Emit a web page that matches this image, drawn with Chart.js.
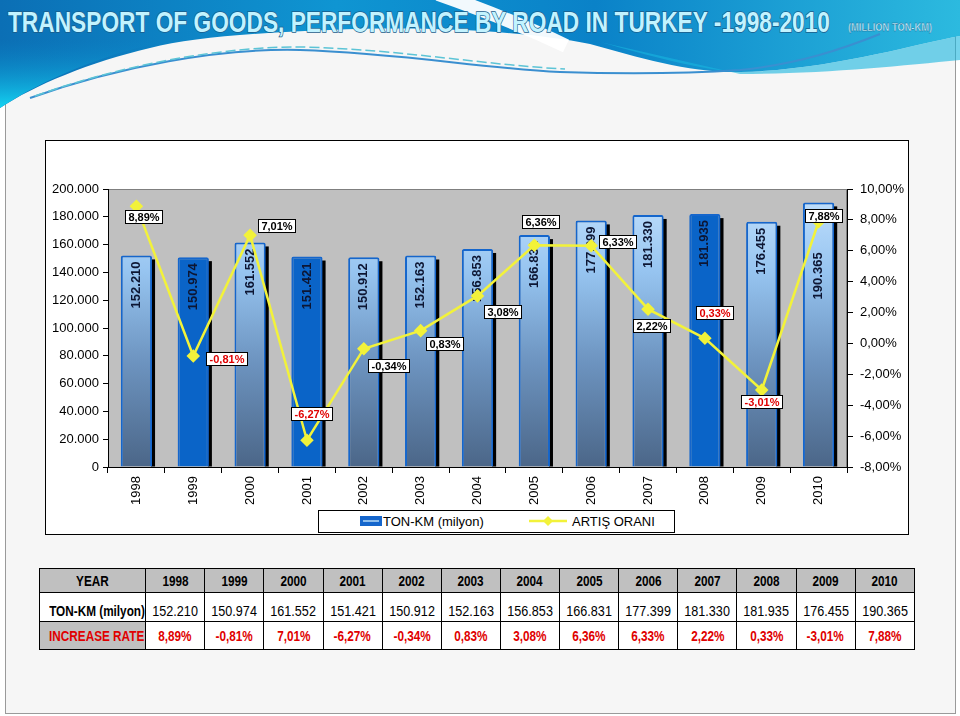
<!DOCTYPE html>
<html>
<head>
<meta charset="utf-8">
<script src="https://cdn.jsdelivr.net/npm/chart.js@4.4.1/dist/chart.umd.min.js"></script>
<style>
  body { margin: 0; width: 960px; height: 716px; position: relative; overflow: hidden; background: #fff; font-family: Arial, "Liberation Sans", sans-serif; }
  #page { position: absolute; left: 5px; top: 0; width: 951px; height: 714px; box-sizing: border-box; border: 1px solid #9a9a9a; border-top: none; background: #f6f6f6; }
  #banner { position: absolute; left: 0; top: 0; }
  #box { position: absolute; left: 45px; top: 140px; width: 864px; height: 395px; box-sizing: border-box; border: 1px solid #000; background: #fff; }
  #box canvas { position: absolute; left: -1px; top: -1px; }
  #legend { position: absolute; left: 318px; top: 510px; width: 357px; height: 23px; box-sizing: border-box; border: 1px solid #000; background: #fff; font-size: 13px; color: #000; }
  #legend canvas, #legend span { position: absolute; }
  #tbl { position: absolute; left: 39px; top: 568px; width: 876px; table-layout: fixed; border-collapse: collapse; font-family: Arial, "Liberation Sans", sans-serif; background: #fff; }
  #tbl td { border: 1px solid #000; text-align: center; padding: 0; overflow: visible; white-space: nowrap; }
  #tbl td span { display: inline-block; transform: scaleX(0.84); transform-origin: center; }
  #tbl tr.h td { background: #c0c0c0; font-weight: bold; font-size: 14px; height: 23px; }
  #tbl tr.v td { font-size: 15px; height: 26px; vertical-align: bottom; padding-bottom: 2px; }
  #tbl tr.r td { color: #e00000; font-weight: bold; font-size: 14px; height: 27px; }
  #tbl td.first { font-weight: bold; }
  #tbl tr.v td.first { font-size: 14px; }
  #tbl tr.r td.first { background: #c0c0c0; }
</style>
</head>
<body>
<div id="page"></div>
<svg id="banner" width="960" height="120" viewBox="0 0 960 120">
  <defs>
    <linearGradient id="bandH" x1="0" y1="0" x2="1" y2="0">
      <stop offset="0" stop-color="#0b6fb5"/>
      <stop offset="0.35" stop-color="#0f95d2"/>
      <stop offset="0.62" stop-color="#0a82c8"/>
      <stop offset="1" stop-color="#2cbadf"/>
    </linearGradient>
    <linearGradient id="lobe" x1="0" y1="0" x2="0" y2="1">
      <stop offset="0" stop-color="#0b8acb" stop-opacity="0"/>
      <stop offset="1" stop-color="#14d4f2"/>
    </linearGradient>
  </defs>
  <path d="M0,0 L960,0 L960,36 C915,44 830,70 740,72 C690,73 640,58 590,44 C520,30 420,26 330,30 C250,33 190,38 150,48 C90,62 35,85 0,108 Z" fill="url(#bandH)"/>
  <path d="M0,40 L170,40 C110,52 45,78 0,108 Z" fill="url(#lobe)"/>
  <path d="M600,42 C650,56 700,70 740,72 C830,70 915,44 960,36 L960,60 C900,66 820,74 740,74 Z" fill="#18b6e0" opacity="0.6"/>
  <path d="M438,-6 C478,8 520,24 566,46" stroke="#fff" stroke-width="14" fill="none" opacity="0.95"/>
  <path d="M30,98 C120,66 220,48 300,50 C400,53 480,68 560,72 C620,74 680,74 740,70 C800,64 845,48 880,34" stroke="#3a8fd0" stroke-width="2" fill="none"/>
  <path d="M35,96 C125,64 225,46 305,47 C405,50 485,65 565,69" stroke="#5cc4d6" stroke-width="1.5" stroke-dasharray="10 4" fill="none"/>
  <text x="8" y="32" textLength="822" lengthAdjust="spacingAndGlyphs" font-family="Liberation Sans, Arial, sans-serif" font-weight="bold" font-size="30" fill="#c2f3ff" stroke="#1b5d8c" stroke-width="1.5" paint-order="stroke">TRANSPORT OF GOODS, PERFORMANCE  BY ROAD IN TURKEY -1998-2010</text>
  <text x="848" y="31" textLength="84" lengthAdjust="spacingAndGlyphs" font-family="Liberation Sans, Arial, sans-serif" font-weight="bold" font-size="10" fill="#c2f3ff" stroke="#1b5d8c" stroke-width="0.3">(MILLION TON-KM)</text>
</svg>
<div id="box"><canvas id="myChart" width="864" height="395"></canvas></div>
<div id="legend">
  <canvas id="swBar" width="22" height="10" style="left:41px;top:5px"></canvas>
  <span style="left:64px;top:3px">TON-KM (milyon)</span>
  <canvas id="swLine" width="38" height="12" style="left:210px;top:4px"></canvas>
  <span style="left:253px;top:3px">ARTIŞ ORANI</span>
</div>
<table id="tbl"></table>

<script>
// data
const years = ['1998', '1999', '2000', '2001', '2002', '2003', '2004', '2005', '2006', '2007', '2008', '2009', '2010'];
const tonKm = [152210, 150974, 161552, 151421, 150912, 152163, 156853, 166831, 177399, 181330, 181935, 176455, 190365];
const rates = [8.89, -0.81, 7.01, -6.27, -0.34, 0.83, 3.08, 6.36, 6.33, 2.22, 0.33, -3.01, 7.88];

const seriesBar = 'TON-KM (milyon)';
const seriesLine = 'ARTIŞ ORANI';
const rowLabels = ['YEAR', 'TON-KM (milyon)', 'INCREASE RATE'];

// styling
const solidYears = ['1999', '2001', '2008'];
const redLabels = ['1999', '2001', '2008', '2009'];
// where each rate label box sits relative to its point (px)
const rateLabelOffsets = [[8, 11], [34, 3], [27, -9], [5, -26], [25, 17], [24, 13], [25, 16], [7, -23], [27, -4], [4, 17], [10, -25], [0, 12], [5, -6]];
const valueLabelShift = { '2010': 44 };

const yellow = '#f2f23a';

function dots(v) {
    return String(v).replace(/\B(?=(\d{3})+(?!\d))/g, '.');
}
function pct(v) {
    return v.toFixed(2).replace('.', ',') + '%';
}

let barGrad = null;
function barFill(c) {
    if (solidYears.includes(years[c.dataIndex])) return '#0a64c8';
    const a = c.chart.chartArea;
    if (!a) return '#7fb0e4';
    if (!barGrad) {
        barGrad = c.chart.ctx.createLinearGradient(0, a.top, 0, a.bottom);
        barGrad.addColorStop(0, '#c4e2fe');
        barGrad.addColorStop(0.3, '#96c4f0');
        barGrad.addColorStop(0.62, '#6d94c0');
        barGrad.addColorStop(1, '#4b6688');
    }
    return barGrad;
}

const plotBg = {
    id: 'plotBg',
    beforeDraw(chart) {
        const { ctx, chartArea: a } = chart;
        ctx.save();
        ctx.fillStyle = '#c0c0c0';
        ctx.fillRect(a.left, a.top, a.right - a.left, a.bottom - a.top);
        ctx.strokeStyle = '#7f7f7f';
        ctx.lineWidth = 1;
        ctx.strokeRect(a.left + 0.5, a.top + 0.5, a.right - a.left - 1, a.bottom - a.top);
        ctx.restore();
    }
};

const barExtras = {
    id: 'barExtras',
    beforeDatasetDraw(chart, args) {
        if (args.index !== 0) return;
        const ctx = chart.ctx;
        ctx.save();
        ctx.fillStyle = '#000';
        args.meta.data.forEach(function (bar) {
            const p = bar.getProps(['x', 'y', 'base', 'width'], true);
            ctx.fillRect(p.x + p.width / 2 - 1, p.y + 4, 4, p.base - p.y - 4);
        });
        ctx.restore();
    },
    afterDatasetDraw(chart, args) {
        if (args.index !== 0) return;
        const ctx = chart.ctx;
        ctx.save();
        ctx.font = 'bold 13px Arial';
        ctx.fillStyle = '#0d1633';
        ctx.textAlign = 'right';
        ctx.textBaseline = 'middle';
        args.meta.data.forEach(function (bar, i) {
            const p = bar.getProps(['x', 'y'], true);
            const shift = valueLabelShift[years[i]] || 0;
            ctx.save();
            ctx.translate(p.x, p.y + 6 + shift);
            ctx.rotate(-Math.PI / 2);
            ctx.fillText(dots(tonKm[i]), 0, 0);
            ctx.restore();
        });
        ctx.restore();
    }
};

const rateLabels = {
    id: 'rateLabels',
    afterDatasetsDraw(chart) {
        const ctx = chart.ctx;
        const meta = chart.getDatasetMeta(1);
        ctx.save();
        ctx.font = 'bold 11px Arial';
        ctx.textAlign = 'center';
        ctx.textBaseline = 'middle';
        meta.data.forEach(function (pt, i) {
            const txt = pct(rates[i]);
            const w = Math.round(ctx.measureText(txt).width + 7);
            const h = 14;
            const cx = Math.round(pt.x + rateLabelOffsets[i][0]);
            const cy = Math.round(pt.y + rateLabelOffsets[i][1]);
            const left = cx - Math.round(w / 2), top = cy - h / 2;
            ctx.fillStyle = '#fff';
            ctx.fillRect(left, top, w, h);
            ctx.strokeStyle = '#000';
            ctx.lineWidth = 1;
            ctx.strokeRect(left + 0.5, top + 0.5, w - 1, h - 1);
            ctx.fillStyle = redLabels.includes(years[i]) ? '#e00000' : '#000';
            ctx.fillText(txt, cx, cy + 1);
        });
        ctx.restore();
    }
};

const tickFont = { family: 'Arial', size: 13 };

var ctx = document.getElementById('myChart');
var myChart = new Chart(ctx, {
    type: 'bar',
    data: {
        labels: years,
        datasets: [{
            label: seriesBar,
            data: tonKm,
            yAxisID: 'y',
            order: 2,
            backgroundColor: barFill,
            borderColor: '#1566cc',
            borderWidth: { top: 2, left: 2, right: 2, bottom: 0 },
            borderRadius: 2,
            borderSkipped: 'start',
            categoryPercentage: 1,
            barPercentage: 0.55
        }, {
            type: 'line',
            label: seriesLine,
            data: rates,
            yAxisID: 'y1',
            order: 1,
            borderColor: yellow,
            backgroundColor: yellow,
            borderWidth: 2.5,
            pointStyle: 'rectRot',
            pointRadius: 5,
            pointBackgroundColor: yellow,
            pointBorderColor: yellow,
            tension: 0
        }]
    },
    options: {
        responsive: false,
        animation: false,
        layout: { padding: { top: 49, bottom: 28, left: 0, right: 0 } },
        plugins: {
            legend: { display: false },
            tooltip: { enabled: false }
        },
        scales: {
            x: {
                offset: true,
                grid: { offset: true, drawOnChartArea: false, tickLength: 6, color: '#000' },
                border: { color: '#000' },
                ticks: { minRotation: 90, maxRotation: 90, color: '#000', font: tickFont, padding: 3 },
                afterFit: function (s) { s.height = 40; }
            },
            y: {
                position: 'left',
                min: 0,
                max: 200000,
                grid: { drawOnChartArea: false, tickLength: 5, color: '#000' },
                border: { color: '#000' },
                ticks: { stepSize: 20000, color: '#000', font: tickFont, padding: 4, callback: function (v) { return dots(v); } },
                afterFit: function (s) { s.width = 63; }
            },
            y1: {
                position: 'right',
                min: -8,
                max: 10,
                grid: { drawOnChartArea: false, tickLength: 6, color: '#000' },
                border: { color: '#000' },
                ticks: { stepSize: 2, color: '#000', font: tickFont, padding: 7, callback: function (v) { return pct(v); } },
                afterFit: function (s) { s.width = 62; }
            }
        }
    },
    plugins: [plotBg, barExtras, rateLabels]
});

// legend swatches
(function () {
    const b = document.getElementById('swBar').getContext('2d');
    b.fillStyle = '#1566cc';
    b.fillRect(0, 0, 22, 10);
    b.fillStyle = '#8dbdec';
    b.fillRect(3, 4, 16, 2);
    const l = document.getElementById('swLine').getContext('2d');
    l.strokeStyle = yellow;
    l.lineWidth = 2.5;
    l.beginPath();
    l.moveTo(0, 6);
    l.lineTo(38, 6);
    l.stroke();
    l.fillStyle = yellow;
    l.beginPath();
    l.moveTo(19, 1); l.lineTo(24, 6); l.lineTo(19, 11); l.lineTo(14, 6);
    l.closePath();
    l.fill();
})();

// data table under the chart
(function () {
    const t = document.getElementById('tbl');
    const cg = document.createElement('colgroup');
    for (let i = 0; i <= years.length; i++) {
        const col = document.createElement('col');
        col.style.width = i === 0 ? '106px' : '59px';
        cg.appendChild(col);
    }
    t.appendChild(cg);
    function row(cls, first, cells) {
        const tr = document.createElement('tr');
        tr.className = cls;
        [first].concat(cells).forEach(function (c, i) {
            const td = document.createElement('td');
            if (i === 0) td.className = 'first';
            const sp = document.createElement('span');
            sp.textContent = c;
            td.appendChild(sp);
            tr.appendChild(td);
        });
        t.appendChild(tr);
    }
    row('h', rowLabels[0], years);
    row('v', rowLabels[1], tonKm.map(dots));
    row('r', rowLabels[2], rates.map(pct));
})();
</script>
</body>
</html>
